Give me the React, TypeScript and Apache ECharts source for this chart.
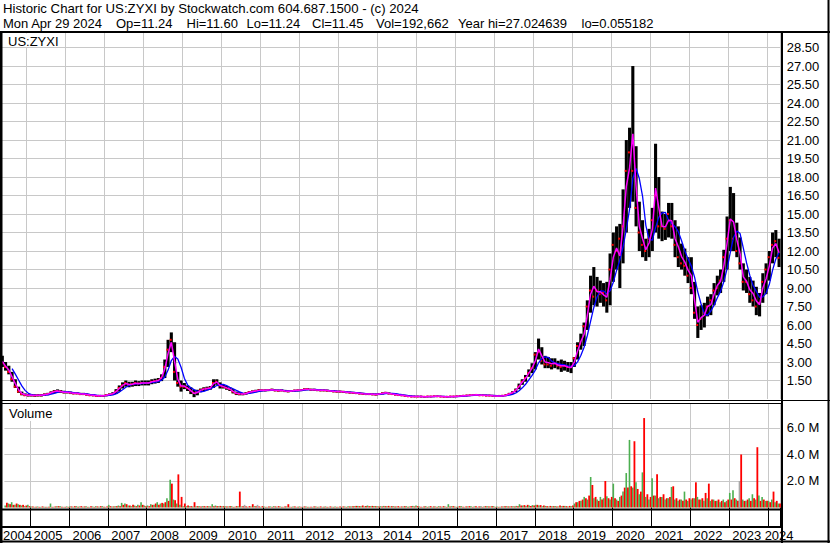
import React, { useEffect, useRef } from "react";
import * as echarts from "echarts";

const FONT = '"Liberation Sans", Arial, sans-serif';
const GRID_COLOR = "#c8c8c8";

const HEADER_1 = "Historic Chart for US:ZYXI by Stockwatch.com 604.687.1500 - (c) 2024";
// Second header line: [text, left x]
const HEADER_2: [string, number][] = [
  ["Mon Apr 29 2024", 3],
  ["Op=11.24", 116],
  ["Hi=11.60", 186.5],
  ["Lo=11.24", 246.5],
  ["Cl=11.45", 312],
  ["Vol=192,662", 376],
  ["Year hi=27.024639", 458],
  ["lo=0.055182", 581.5],
];
const PRICE_LABEL = "US:ZYXI";
const VOLUME_LABEL = "Volume";

// Monthly categories, May 2004 .. Apr 2024
const MONTHS: string[] = [];
for (let y = 2004, m = 5; MONTHS.length < 240; ) {
  MONTHS.push(`${y}-${String(m).padStart(2, "0")}`);
  m++;
  if (m > 12) { m = 1; y++; }
}

// Monthly high / low / close
const HIGH = [
  /*2004*/ 3.5, 3.0, 2.7, 2.2, 1.6, 1.0, 0.6, 0.45,
  /*2005*/ 0.4, 0.4, 0.38, 0.4, 0.4, 0.45, 0.5, 0.62, 0.72, 0.78, 0.72, 0.66,
  /*2006*/ 0.65, 0.6, 0.55, 0.55, 0.5, 0.5, 0.45, 0.4, 0.38, 0.33, 0.33, 0.33,
  /*2007*/ 0.38, 0.45, 0.55, 0.8, 1.1, 1.35, 1.5, 1.4, 1.4, 1.5, 1.45, 1.5,
  /*2008*/ 1.5, 1.5, 1.6, 1.65, 1.7, 2.0, 3.2, 4.8, 5.4, 4.6, 2.2, 1.5,
  /*2009*/ 1.3, 1.1, 0.95, 0.75, 0.75, 0.85, 0.95, 1.0, 1.05, 1.6, 1.6, 1.35,
  /*2010*/ 1.15, 1.05, 0.95, 0.8, 0.6, 0.55, 0.5, 0.55, 0.65, 0.7, 0.75, 0.8,
  /*2011*/ 0.78, 0.78, 0.8, 0.84, 0.78, 0.76, 0.78, 0.74, 0.7, 0.73, 0.76, 0.78,
  /*2012*/ 0.8, 0.86, 0.88, 0.84, 0.83, 0.8, 0.78, 0.78, 0.76, 0.73, 0.7, 0.68,
  /*2013*/ 0.68, 0.66, 0.63, 0.6, 0.58, 0.56, 0.53, 0.5, 0.48, 0.48, 0.46, 0.44,
  /*2014*/ 0.48, 0.54, 0.58, 0.53, 0.48, 0.44, 0.4, 0.37, 0.33, 0.29, 0.27, 0.26,
  /*2015*/ 0.26, 0.26, 0.24, 0.26, 0.26, 0.28, 0.28, 0.26, 0.24, 0.24, 0.26, 0.26,
  /*2016*/ 0.28, 0.3, 0.33, 0.35, 0.37, 0.39, 0.4, 0.37, 0.37, 0.35, 0.35, 0.33,
  /*2017*/ 0.31, 0.31, 0.33, 0.38, 0.5, 0.62, 0.85, 1.25, 1.6, 1.95, 2.4, 2.9,
  /*2018*/ 3.8, 4.9, 4.2, 3.5, 3.4, 3.3, 3.3, 3.1, 3.2, 3.1, 3.0, 3.0,
  /*2019*/ 3.4, 4.6, 5.3, 6.2, 8.0, 10.0, 10.7, 9.9, 9.6, 9.4, 9.5, 11.8,
  /*2020*/ 13.5, 14.0, 14.2, 17.0, 21.0, 22.0, 27.0, 20.5, 16.0, 14.5, 13.0, 13.8,
  /*2021*/ 15.5, 20.7, 18.0, 15.2, 15.0, 15.9, 15.9, 14.5, 14.0, 12.6, 12.2, 11.5,
  /*2022*/ 11.5, 9.5, 7.5, 7.6, 7.8, 8.3, 8.5, 9.4, 10.0, 10.5, 12.1, 14.8,
  /*2023*/ 17.2, 16.7, 14.3, 13.1, 11.0, 10.5, 9.9, 9.6, 9.1, 8.6, 10.2, 11.0,
  /*2024*/ 12.0, 13.5, 13.7, 13.0,
];
const LOW = [
  /*2004*/ 2.6, 2.3, 2.0, 1.4, 0.9, 0.5, 0.3, 0.25,
  /*2005*/ 0.2, 0.2, 0.18, 0.2, 0.2, 0.25, 0.3, 0.4, 0.48, 0.52, 0.5, 0.45,
  /*2006*/ 0.45, 0.4, 0.38, 0.38, 0.32, 0.32, 0.28, 0.24, 0.22, 0.18, 0.18, 0.18,
  /*2007*/ 0.22, 0.28, 0.32, 0.4, 0.6, 0.85, 1.0, 0.95, 1.0, 1.05, 1.05, 1.1,
  /*2008*/ 1.1, 1.1, 1.2, 1.25, 1.3, 1.45, 1.7, 2.6, 3.8, 1.5, 1.0, 0.6,
  /*2009*/ 0.8, 0.65, 0.4, 0.15, 0.3, 0.55, 0.65, 0.7, 0.75, 0.9, 1.15, 0.85,
  /*2010*/ 0.85, 0.75, 0.65, 0.45, 0.32, 0.3, 0.3, 0.35, 0.45, 0.5, 0.55, 0.6,
  /*2011*/ 0.62, 0.62, 0.64, 0.66, 0.62, 0.6, 0.62, 0.56, 0.54, 0.57, 0.6, 0.62,
  /*2012*/ 0.64, 0.7, 0.72, 0.67, 0.67, 0.64, 0.62, 0.62, 0.6, 0.57, 0.54, 0.52,
  /*2013*/ 0.52, 0.5, 0.47, 0.44, 0.42, 0.4, 0.37, 0.34, 0.32, 0.32, 0.3, 0.28,
  /*2014*/ 0.32, 0.37, 0.42, 0.37, 0.33, 0.29, 0.25, 0.23, 0.19, 0.16, 0.14, 0.14,
  /*2015*/ 0.14, 0.14, 0.12, 0.14, 0.14, 0.16, 0.16, 0.14, 0.12, 0.12, 0.14, 0.14,
  /*2016*/ 0.16, 0.18, 0.2, 0.22, 0.24, 0.26, 0.27, 0.24, 0.24, 0.22, 0.22, 0.2,
  /*2017*/ 0.19, 0.19, 0.2, 0.24, 0.32, 0.42, 0.55, 0.8, 1.15, 1.4, 1.8, 2.1,
  /*2018*/ 2.4, 3.2, 2.8, 2.5, 2.5, 2.4, 2.5, 2.4, 2.2, 2.3, 2.2, 2.1,
  /*2019*/ 2.6, 3.2, 4.0, 4.3, 5.6, 7.0, 7.6, 7.5, 7.8, 7.5, 7.0, 7.6,
  /*2020*/ 9.5, 10.5, 9.0, 11.0, 13.5, 15.5, 16.0, 14.0, 12.0, 11.5, 11.2, 11.5,
  /*2021*/ 12.0, 13.5, 13.0, 12.8, 12.9, 13.1, 13.0, 11.5, 10.7, 10.5, 10.0, 9.4,
  /*2022*/ 8.5, 6.5, 4.95, 5.6, 5.8, 6.7, 6.8, 7.6, 8.4, 8.6, 9.5, 10.5,
  /*2023*/ 12.0, 12.0, 11.5, 10.5, 8.8, 8.6, 7.8, 7.5, 6.8, 6.7, 7.8, 8.5,
  /*2024*/ 9.6, 11.0, 11.5, 10.7,
];
const CLOSE = [
  /*2004*/ 2.9, 2.6, 2.2, 1.6, 1.0, 0.6, 0.4, 0.3,
  /*2005*/ 0.3, 0.3, 0.28, 0.3, 0.3, 0.35, 0.4, 0.5, 0.6, 0.65, 0.6, 0.55,
  /*2006*/ 0.55, 0.5, 0.45, 0.45, 0.4, 0.4, 0.35, 0.3, 0.3, 0.25, 0.25, 0.25,
  /*2007*/ 0.3, 0.35, 0.4, 0.6, 0.9, 1.1, 1.3, 1.15, 1.2, 1.3, 1.25, 1.3,
  /*2008*/ 1.3, 1.3, 1.4, 1.45, 1.5, 1.7, 2.6, 4.0, 4.8, 2.2, 1.3, 1.0,
  /*2009*/ 1.0, 0.9, 0.7, 0.5, 0.55, 0.7, 0.8, 0.85, 0.9, 1.3, 1.4, 1.1,
  /*2010*/ 1.0, 0.9, 0.8, 0.6, 0.45, 0.4, 0.4, 0.45, 0.55, 0.6, 0.65, 0.7,
  /*2011*/ 0.7, 0.7, 0.72, 0.75, 0.7, 0.68, 0.7, 0.65, 0.62, 0.65, 0.68, 0.7,
  /*2012*/ 0.72, 0.78, 0.8, 0.75, 0.75, 0.72, 0.7, 0.7, 0.68, 0.65, 0.62, 0.6,
  /*2013*/ 0.6, 0.58, 0.55, 0.52, 0.5, 0.48, 0.45, 0.42, 0.4, 0.4, 0.38, 0.36,
  /*2014*/ 0.4, 0.45, 0.5, 0.45, 0.4, 0.36, 0.32, 0.3, 0.26, 0.22, 0.2, 0.2,
  /*2015*/ 0.2, 0.2, 0.18, 0.2, 0.2, 0.22, 0.22, 0.2, 0.18, 0.18, 0.2, 0.2,
  /*2016*/ 0.22, 0.24, 0.26, 0.28, 0.3, 0.32, 0.33, 0.3, 0.3, 0.28, 0.28, 0.26,
  /*2017*/ 0.25, 0.25, 0.26, 0.3, 0.4, 0.5, 0.7, 1.0, 1.4, 1.7, 2.1, 2.5,
  /*2018*/ 3.6, 3.8, 3.1, 2.8, 2.8, 2.7, 2.9, 2.7, 2.6, 2.7, 2.6, 2.6,
  /*2019*/ 3.3, 4.3, 4.5, 5.9, 7.5, 8.8, 8.3, 8.8, 8.5, 8.6, 8.0, 10.5,
  /*2020*/ 12.5, 12.0, 13.0, 14.0, 18.5, 20.0, 18.5, 15.5, 13.5, 12.5, 12.0, 13.0,
  /*2021*/ 14.5, 16.5, 14.0, 14.0, 13.8, 15.0, 14.0, 12.5, 11.5, 11.0, 10.8, 10.0,
  /*2022*/ 9.0, 7.0, 6.0, 6.5, 7.0, 7.5, 8.0, 8.8, 9.0, 9.6, 11.5, 13.0,
  /*2023*/ 14.5, 13.0, 12.0, 11.0, 9.5, 9.5, 8.5, 8.0, 7.5, 7.8, 9.5, 10.5,
  /*2024*/ 11.5, 12.5, 12.8, 11.45,
];

// Volume (millions): largest up-day and down-day bars seen in each month
const VOL_UP = [
  /*2004*/ 0.15, 0.3, 0.4, 0.2, 0.25, 0.15, 0.1, 0.2,
  /*2005*/ 0.08, 0.05, 0.08, 0.05, 0.06, 0.05, 0.3, 0.06, 0.1, 0.1, 0.05, 0.08,
  /*2006*/ 0.1, 0.05, 0.1, 0.08, 0.05, 0.1, 0.05, 0.08, 0.1, 0.05, 0.1, 0.05,
  /*2007*/ 0.2, 0.08, 0.1, 0.15, 0.35, 0.3, 0.15, 0.1, 0.15, 0.2, 0.4, 0.15,
  /*2008*/ 0.15, 0.25, 0.2, 0.4, 0.3, 0.3, 0.7, 2.1, 0.6, 0.3, 0.2, 0.1,
  /*2009*/ 0.1, 0.1, 0.08, 0.1, 0.1, 0.1, 0.08, 0.1, 0.25, 0.15, 0.1, 0.1,
  /*2010*/ 0.1, 0.08, 0.1, 0.05, 0.1, 0.08, 0.1, 0.05, 0.08, 0.1, 0.08, 0.05,
  /*2011*/ 0.08, 0.05, 0.08, 0.1, 0.05, 0.08, 0.05, 0.08, 0.05, 0.08, 0.05, 0.08,
  /*2012*/ 0.05, 0.08, 0.05, 0.05, 0.08, 0.05, 0.05, 0.08, 0.05, 0.05, 0.08, 0.05,
  /*2013*/ 0.05, 0.08, 0.1, 0.08, 0.1, 0.12, 0.1, 0.08, 0.15, 0.1, 0.12, 0.1,
  /*2014*/ 0.1, 0.12, 0.1, 0.08, 0.1, 0.08, 0.05, 0.08, 0.1, 0.08, 0.12, 0.15,
  /*2015*/ 0.08, 0.05, 0.1, 0.08, 0.05, 0.08, 0.1, 0.05, 0.08, 0.25, 0.1, 0.08,
  /*2016*/ 0.08, 0.1, 0.05, 0.08, 0.1, 0.08, 0.05, 0.1, 0.08, 0.1, 0.08, 0.1,
  /*2017*/ 0.08, 0.05, 0.08, 0.1, 0.08, 0.1, 0.12, 0.25, 0.15, 0.12, 0.15, 0.18,
  /*2018*/ 0.2, 0.15, 0.1, 0.12, 0.08, 0.1, 0.12, 0.08, 0.1, 0.12, 0.08, 0.1,
  /*2019*/ 0.3, 0.4, 0.5, 0.8, 0.6, 2.3, 0.7, 0.6, 0.8, 0.7, 0.85, 0.6,
  /*2020*/ 1.8, 0.6, 0.8, 1.2, 2.6, 5.1, 1.5, 1.9, 1.0, 2.65, 0.8, 0.6,
  /*2021*/ 2.2, 0.9, 0.7, 0.8, 0.6, 0.7, 1.55, 0.6, 0.5, 0.6, 1.2, 0.5,
  /*2022*/ 0.6, 0.7, 0.8, 0.6, 0.5, 0.7, 0.5, 0.6, 0.5, 0.4, 0.6, 0.5,
  /*2023*/ 1.1, 1.3, 0.6, 0.5, 0.6, 0.5, 0.7, 1.0, 0.6, 0.9, 0.8, 0.5,
  /*2024*/ 0.5, 0.6, 0.4, 0.3,
];
const VOL_DOWN = [
  /*2004*/ 0.35, 0.25, 0.2, 0.3, 0.2, 0.2, 0.15, 0.1,
  /*2005*/ 0.08, 0.05, 0.05, 0.08, 0.05, 0.05, 0.05, 0.08, 0.1, 0.05, 0.05, 0.05,
  /*2006*/ 0.08, 0.1, 0.05, 0.1, 0.08, 0.05, 0.1, 0.05, 0.08, 0.1, 0.05, 0.08,
  /*2007*/ 0.1, 0.08, 0.1, 0.1, 0.2, 0.25, 0.15, 0.2, 0.1, 0.15, 0.2, 0.1,
  /*2008*/ 0.1, 0.2, 0.3, 0.2, 0.35, 0.4, 0.5, 1.8, 0.55, 2.5, 0.8, 0.3,
  /*2009*/ 0.15, 0.1, 0.4, 0.1, 0.08, 0.1, 0.1, 0.08, 0.1, 0.1, 0.12, 0.1,
  /*2010*/ 0.08, 0.1, 0.05, 0.1, 1.2, 0.1, 0.08, 0.1, 0.25, 0.1, 0.08, 0.1,
  /*2011*/ 0.05, 0.08, 0.05, 0.08, 0.1, 0.05, 0.08, 0.25, 0.05, 0.08, 0.05, 0.05,
  /*2012*/ 0.08, 0.05, 0.05, 0.08, 0.05, 0.08, 0.05, 0.05, 0.08, 0.05, 0.05, 0.08,
  /*2013*/ 0.08, 0.05, 0.08, 0.1, 0.12, 0.1, 0.15, 0.12, 0.1, 0.12, 0.1, 0.08,
  /*2014*/ 0.08, 0.1, 0.12, 0.1, 0.08, 0.1, 0.08, 0.1, 0.05, 0.1, 0.08, 0.1,
  /*2015*/ 0.05, 0.08, 0.05, 0.1, 0.08, 0.05, 0.08, 0.1, 0.05, 0.08, 0.1, 0.05,
  /*2016*/ 0.1, 0.05, 0.08, 0.1, 0.05, 0.1, 0.08, 0.05, 0.1, 0.08, 0.1, 0.05,
  /*2017*/ 0.05, 0.08, 0.1, 0.08, 0.1, 0.08, 0.1, 0.15, 0.18, 0.2, 0.12, 0.15,
  /*2018*/ 0.2, 0.18, 0.15, 0.1, 0.12, 0.1, 0.08, 0.15, 0.12, 0.1, 0.12, 0.15,
  /*2019*/ 0.4, 0.5, 0.6, 0.7, 0.9, 1.7, 0.8, 0.5, 0.6, 2.0, 0.7, 0.8,
  /*2020*/ 0.7, 0.5, 0.9, 1.5, 1.5, 1.6, 5.0, 1.4, 1.2, 6.75, 1.0, 0.8,
  /*2021*/ 0.9, 2.5, 0.8, 1.0, 0.7, 0.8, 1.6, 0.7, 0.6, 0.5, 0.6, 0.7,
  /*2022*/ 0.7, 1.9, 0.6, 0.7, 1.1, 1.8, 0.6, 0.5, 0.6, 0.5, 0.4, 0.6,
  /*2023*/ 0.6, 0.7, 0.5, 4.0, 0.5, 0.6, 0.5, 0.7, 4.55, 0.5, 0.6, 0.5,
  /*2024*/ 0.4, 1.2, 0.5, 0.3,
];
// Unchanged-day (grey) volume bars
const VOL_FLAT: [string, number][] = [
  ["2010-07", 0.2],
  ["2010-11", 0.2],
  ["2016-08", 0.1],
  ["2023-04", 2.0],
];

const PRICE_TICK_STEP = 1.5;
const VOLUME_TICK_STEP = 2;

function sma(values: number[], n: number): (number | null)[] {
  return values.map((_, i) => {
    if (i < n - 1) return null;
    let s = 0;
    for (let k = i - n + 1; k <= i; k++) s += values[k];
    return +(s / n).toFixed(3);
  });
}

export default function App() {
  const ref = useRef<HTMLDivElement>(null);

  useEffect(() => {
    document.body.style.margin = "0";
    if (!ref.current) return;
    const chart = echarts.init(ref.current, null, { renderer: "svg" });

    const isJan = (i: number) => i >= 8 && (i - 8) % 12 === 0;
    const labelIdx = new Set<number>([4, 239]);
    for (let y = 2005; y <= 2023; y++) labelIdx.add(8 + (y - 2005) * 12 + 5);

    const flatMap: Record<string, number> = {};
    VOL_FLAT.forEach(([m, v]) => (flatMap[m] = v));

    const priceData = MONTHS.map((m, i) => [i, HIGH[i], LOW[i], CLOSE[i]]);
    const volData = MONTHS.map((m, i) => [i, VOL_UP[i], VOL_DOWN[i], flatMap[m] || 0]);
    const mid = HIGH.map((h, i) => (h + LOW[i]) / 2);
    const maFast = sma(mid, 1);
    const maSlow = sma(mid, 4);

    const axisText = { fontFamily: FONT, fontSize: 13, color: "#000" };

    const line = (x1: number, y1: number, x2: number, y2: number, w: number) => ({
      type: "line",
      z: 100,
      shape: { x1, y1, x2, y2 },
      style: { stroke: "#000", lineWidth: w },
    });

    const header2 = HEADER_2.map(([t, x]) => ({
      type: "text",
      z: 100,
      x,
      y: 23,
      style: { text: t, font: `13px ${FONT}`, fill: "#000", verticalAlign: "middle" },
    }));

    const option: any = {
      animation: false,
      backgroundColor: "#ffffff",
      textStyle: { fontFamily: FONT },
      grid: [
        { left: 0.7, width: 780, top: 33, height: 366 },
        { left: 0.7, width: 780, top: 404, height: 103.5 },
      ],
      xAxis: [
        {
          type: "category",
          gridIndex: 0,
          data: MONTHS,
          boundaryGap: true,
          axisLine: { show: false },
          axisTick: { show: false },
          axisLabel: { show: false },
          splitLine: { show: true, interval: (i: number) => isJan(i), lineStyle: { color: GRID_COLOR, width: 1 } },
        },
        {
          type: "category",
          gridIndex: 1,
          data: MONTHS,
          boundaryGap: true,
          axisLine: { show: false },
          axisTick: {
            show: true,
            interval: (i: number) => isJan(i),
            length: 19.5,
            lineStyle: { color: "#000", width: 1 },
          },
          axisLabel: {
            ...axisText,
            interval: (i: number) => labelIdx.has(i),
            formatter: (v: string) => (v.startsWith("2004") ? "{l|2004}" : v.slice(0, 4)),
            rich: { l: { ...axisText, padding: [0, 3, 0, 0] } },
            margin: 21,
          },
          splitLine: { show: true, interval: (i: number) => isJan(i), lineStyle: { color: GRID_COLOR, width: 1 } },
        },
      ],
      yAxis: [
        {
          type: "value",
          gridIndex: 0,
          position: "right",
          min: 0,
          max: 29.68,
          interval: PRICE_TICK_STEP,
          axisLine: { show: false },
          axisTick: { show: false },
          axisLabel: {
            ...axisText,
            margin: 6,
            showMinLabel: false,
            showMaxLabel: false,
            formatter: (v: number) => v.toFixed(2),
          },
          splitLine: { show: true, showMinLine: false, showMaxLine: false, lineStyle: { color: GRID_COLOR, width: 1 } },
        },
        {
          type: "value",
          gridIndex: 1,
          position: "right",
          min: 0,
          max: 7.81,
          interval: VOLUME_TICK_STEP,
          axisLine: { show: false },
          axisTick: { show: false },
          axisLabel: {
            ...axisText,
            margin: 6,
            showMinLabel: false,
            showMaxLabel: false,
            formatter: (v: number) => v.toFixed(1) + " M",
          },
          splitLine: { show: true, showMinLine: false, showMaxLine: false, lineStyle: { color: GRID_COLOR, width: 1 } },
        },
      ],
      series: [
        {
          type: "custom",
          name: "OHLC",
          xAxisIndex: 0,
          yAxisIndex: 0,
          data: priceData,
          encode: { x: 0, y: [1, 2, 3] },
          z: 2,
          renderItem: (params: any, api: any) => {
            const i = api.value(0);
            const hi = api.coord([i, api.value(1)]);
            const lo = api.coord([i, api.value(2)]);
            const cl = api.coord([i, api.value(3)]);
            const w = api.size([1, 0])[0];
            const bw = w * 0.95;
            return {
              type: "group",
              children: [
                {
                  type: "rect",
                  shape: { x: hi[0] - bw / 2, y: hi[1], width: bw, height: Math.max(1.5, lo[1] - hi[1]) },
                  style: { fill: "#000000" },
                },
                {
                  type: "rect",
                  shape: { x: cl[0] - w / 2, y: cl[1] - 1, width: w * 0.6, height: 2 },
                  style: { fill: "#ff0000" },
                },
              ],
            };
          },
        },
        {
          type: "line",
          name: "MA slow",
          xAxisIndex: 0,
          yAxisIndex: 0,
          data: maSlow,
          symbol: "none",
          z: 3,
          lineStyle: { color: "#0000ff", width: 1.3 },
        },
        {
          type: "line",
          name: "MA fast",
          xAxisIndex: 0,
          yAxisIndex: 0,
          data: maFast,
          symbol: "none",
          z: 4,
          lineStyle: { color: "#ff00ff", width: 1.5 },
        },
        {
          type: "custom",
          name: "Volume",
          xAxisIndex: 1,
          yAxisIndex: 1,
          data: volData,
          encode: { x: 0, y: [1, 2, 3] },
          z: 2,
          renderItem: (params: any, api: any) => {
            const i = api.value(0);
            const base = api.coord([i, 0]);
            const w = api.size([1, 0])[0];
            const half = w / 2;
            const kids: any[] = [];
            const up = api.value(1);
            const dn = api.value(2);
            const fl = api.value(3);
            if (up > 0) {
              const p = api.coord([i, up]);
              kids.push({
                type: "rect",
                shape: { x: base[0] - half, y: p[1], width: half, height: base[1] - p[1] },
                style: { fill: "#4caf50" },
              });
            }
            if (fl > 0) {
              const p = api.coord([i, fl]);
              kids.push({
                type: "rect",
                shape: { x: base[0] - half, y: p[1], width: half, height: base[1] - p[1] },
                style: { fill: "#a8a8a8" },
              });
            }
            if (dn > 0) {
              const p = api.coord([i, dn]);
              kids.push({
                type: "rect",
                shape: { x: base[0], y: p[1], width: half + 0.2, height: base[1] - p[1] },
                style: { fill: "#ff0000" },
              });
            }
            return { type: "group", children: kids };
          },
        },
      ],
      graphic: {
        elements: [
          {
            type: "text",
            z: 100,
            x: 3,
            y: 8.5,
            style: { text: HEADER_1, font: `13.2px ${FONT}`, fill: "#000", verticalAlign: "middle" },
          },
          ...header2,
          { type: "rect", z: 90, shape: { x: 3, y: 33.5, width: 60, height: 13.5 }, style: { fill: "#fff" } },
          {
            type: "text",
            z: 100,
            x: 8,
            y: 41.5,
            style: { text: PRICE_LABEL, font: `13px ${FONT}`, fill: "#000", verticalAlign: "middle" },
          },
          { type: "rect", z: 90, shape: { x: 5, y: 405, width: 52, height: 16 }, style: { fill: "#fff" } },
          {
            type: "text",
            z: 100,
            x: 9,
            y: 413,
            style: { text: VOLUME_LABEL, font: `13px ${FONT}`, fill: "#000", verticalAlign: "middle" },
          },
          line(0, 32, 830, 32, 2),
          line(1.25, 31, 1.25, 543, 2.5),
          line(828.5, 0, 828.5, 543, 2),
          line(782, 32, 782, 543, 2),
          line(0, 400.5, 830, 400.5, 1),
          line(0, 403.5, 782, 403.5, 1),
          line(0, 509.5, 782, 509.5, 2),
          line(0, 527, 782, 527, 2),
          line(0, 541.5, 830, 541.5, 2),
        ],
      },
    };

    chart.setOption(option);
    return () => chart.dispose();
  }, []);

  return <div ref={ref} style={{ width: 830, height: 543 }} />;
}
